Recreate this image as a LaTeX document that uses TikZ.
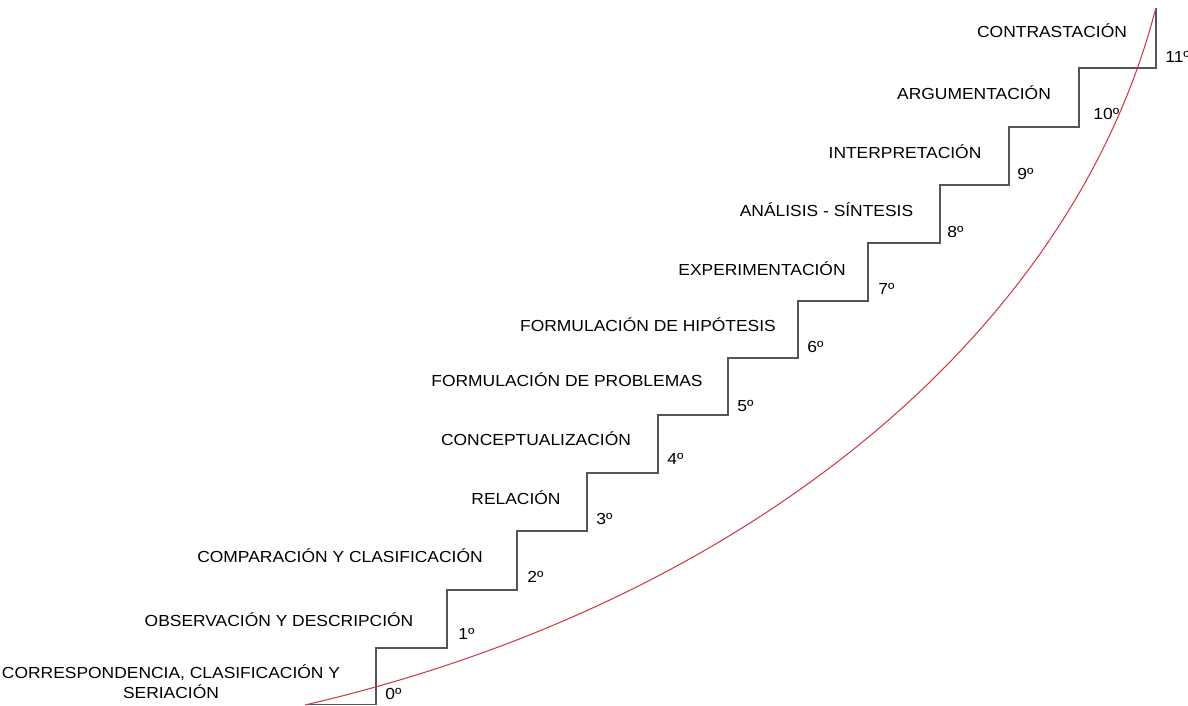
\documentclass[tikz,border=0pt]{standalone}
\usepackage{fontspec}
\setmainfont[FakeStretch=1.09]{Liberation Sans}
\definecolor{curva}{RGB}{205,60,70}
\definecolor{linea}{RGB}{85,85,85}
\begin{document}
\begin{tikzpicture}[
  paso/.style={inner sep=0pt, anchor=base, font=\fontsize{9.1}{11.4}\selectfont},
  grado/.style={inner sep=0pt, anchor=base west, font=\fontsize{9.1}{11.4}\selectfont}]
\useasboundingbox (0,0) rectangle (23.76,14.12);
% escalera
\draw[linea, line width=0.8pt] (6.14,0.03) -| (7.52,1.16) -| (8.94,2.32) -| (10.34,3.50)
  -| (11.74,4.66) -| (13.16,5.82) -| (14.56,6.96) -| (15.96,8.10) -| (17.36,9.26)
  -| (18.80,10.42) -| (20.18,11.58) -| (21.58,12.76) -| (23.12,13.96);
% curva
\coordinate (inicio) at (6.10,0.02);
\draw[curva, line width=0.6pt] (inicio) arc[start angle=-72.19, end angle=-10.54, x radius=25.126, y radius=18.122];

\node[paso, anchor=center, align=center] (p0) at (3.42,0.48) {CORRESPONDENCIA, CLASIFICACIÓN Y\\SERIACIÓN};
\node[paso] (p1) at (5.58,1.58) {OBSERVACIÓN Y DESCRIPCIÓN};
\node[paso] (p2) at (6.80,2.86) {COMPARACIÓN Y CLASIFICACIÓN};
\node[paso] (p3) at (10.32,4.03) {RELACIÓN};
\node[paso] (p4) at (10.72,5.20) {CONCEPTUALIZACIÓN};
\node[paso] (p5) at (11.34,6.38) {FORMULACIÓN DE PROBLEMAS};
\node[paso] (p6) at (12.96,7.48) {FORMULACIÓN DE HIPÓTESIS};
\node[paso] (p7) at (15.24,8.61) {EXPERIMENTACIÓN};
\node[paso] (p8) at (16.53,9.78) {ANÁLISIS - SÍNTESIS};
\node[paso] (p9) at (18.10,10.94) {INTERPRETACIÓN};
\node[paso] (p10) at (19.48,12.13) {ARGUMENTACIÓN};
\node[paso] (p11) at (21.04,13.37) {CONTRASTACIÓN};

\node[grado] (g0) at (7.70,0.12) {0º};
\node[grado] (g1) at (9.16,1.32) {1º};
\node[grado] (g2) at (10.54,2.46) {2º};
\node[grado] (g3) at (11.92,3.62) {3º};
\node[grado] (g4) at (13.34,4.82) {4º};
\node[grado] (g5) at (14.74,5.88) {5º};
\node[grado] (g6) at (16.14,7.06) {6º};
\node[grado] (g7) at (17.56,8.22) {7º};
\node[grado] (g8) at (18.94,9.36) {8º};
\node[grado] (g9) at (20.34,10.52) {9º};
\node[grado] (g10) at (21.86,11.72) {10º};
\node[grado] (g11) at (23.30,12.86) {11º};
\end{tikzpicture}
\end{document}
